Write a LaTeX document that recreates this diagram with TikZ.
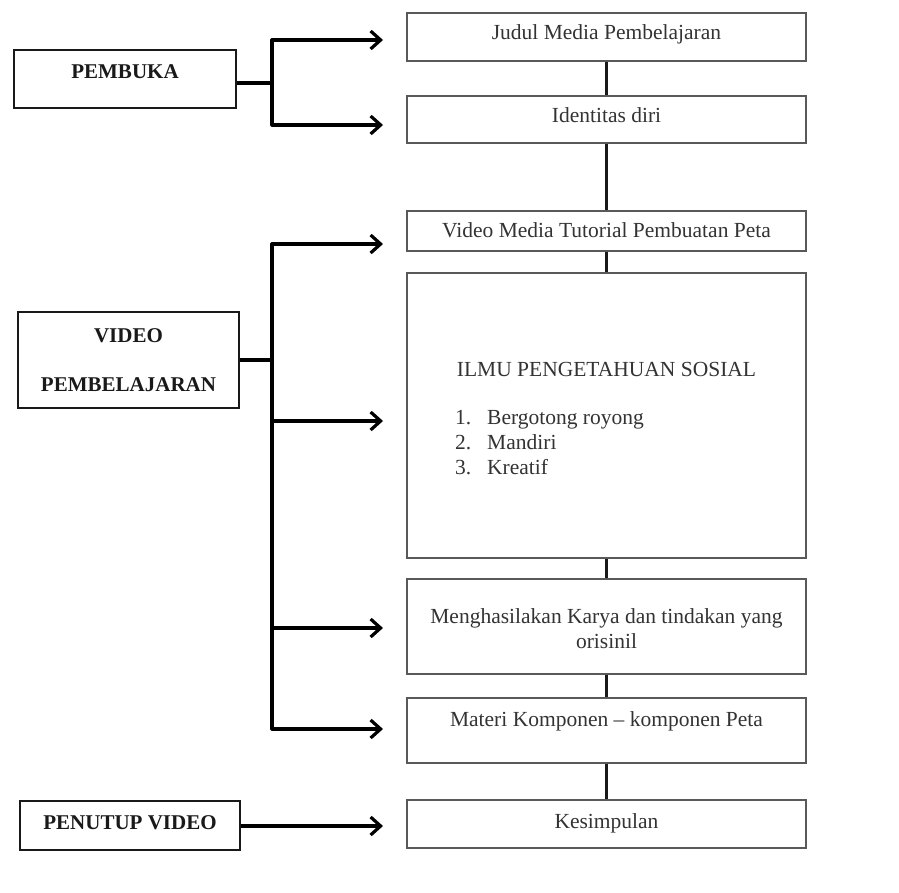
\documentclass[tikz,border=0pt]{standalone}
\usepackage{fontspec}
\setmainfont{Liberation Serif}
\usetikzlibrary{arrows.meta}
\begin{document}
\begin{tikzpicture}[x=1pt,y=-1pt,
 rbox/.style={draw=black!65, line width=1.8pt, inner sep=0, minimum width=399pt},
 lbox/.style={draw=black!90, line width=2.8pt, inner sep=0},
 rtext/.style={anchor=base, text=black!80, font=\fontsize{21.5}{25}\selectfont, inner sep=0},
 ltext/.style={anchor=base, text=black!90, font=\fontsize{21}{25}\selectfont\bfseries, inner sep=0},
 vlink/.style={draw=black!90, line width=2.2pt},
 branch/.style={draw=black, line width=3.2pt, line join=round},
 arr/.style={branch, -{Straight Barb[length=10pt,width=18pt]}}]
\fill[white] (0,0) rectangle (899,893);
\useasboundingbox (0,0) rectangle (899,893);
% right column boxes
\node[rbox, minimum height=48pt]  (b1) at (606.5,37) {};
\node[rbox, minimum height=47pt]  (b2) at (606.5,119.5) {};
\node[rbox, minimum height=40pt]  (b3) at (606.5,231) {};
\node[rbox, minimum height=285pt] (b4) at (606.5,415.5) {};
\node[rbox, minimum height=95pt]  (b5) at (606.5,626.5) {};
\node[rbox, minimum height=65pt]  (b6) at (606.5,730.5) {};
\node[rbox, minimum height=48pt]  (b7) at (606.5,824) {};
\draw[vlink] (b1.south) -- (b2.north);
\draw[vlink] (b2.south) -- (b3.north);
\draw[vlink] (b3.south) -- (b4.north);
\draw[vlink] (b4.south) -- (b5.north);
\draw[vlink] (b5.south) -- (b6.north);
\draw[vlink] (b6.south) -- (b7.north);
% right texts
\node[rtext] (t1) at (606.5,40) {Judul Media Pembelajaran};
\node[rtext] (t2) at (606.5,123) {Identitas diri};
\node[rtext] (t3) at (606.5,238) {Video Media Tutorial Pembuatan Peta};
\node[rtext] (t4) at (606.5,376) {ILMU PENGETAHUAN SOSIAL};
\node[rtext, anchor=base west] (n1) at (455,424) {1.};
\node[rtext, anchor=base west] (i1) at (487,424) {Bergotong royong};
\node[rtext, anchor=base west] (n2) at (455,449) {2.};
\node[rtext, anchor=base west] (i2) at (487,449) {Mandiri};
\node[rtext, anchor=base west] (n3) at (455,474) {3.};
\node[rtext, anchor=base west] (i3) at (487,474) {Kreatif};
\node[rtext] (t5a) at (606.5,623) {Menghasilakan Karya dan tindakan yang};
\node[rtext] (t5b) at (606.5,648) {orisinil};
\node[rtext] (t6) at (606.5,726) {Materi Komponen – komponen Peta};
\node[rtext] (t7) at (606.5,828) {Kesimpulan};
% left boxes
\node[lbox, minimum width=222pt, minimum height=58pt] (L1) at (125,79) {};
\node[lbox, minimum width=221pt, minimum height=96pt] (L2) at (128.5,360) {};
\node[lbox, minimum width=220pt, minimum height=49pt] (L3) at (130,825.5) {};
\node[ltext] (lt1) at (125,79) {PEMBUKA};
\node[ltext] (lt2a) at (128.5,342) {VIDEO};
\node[ltext] (lt2b) at (128.5,391) {PEMBELAJARAN};
\node[ltext] (lt3) at (130,829) {PENUTUP VIDEO};
% branch connectors
\coordinate (j1) at (272,83);
\coordinate (a1) at (383,40);
\coordinate (a2) at (383,125);
\draw[branch] (L1.east |- j1) -- (j1);
\draw[arr] (j1) |- (a1);
\draw[arr] (j1) |- (a2);
\coordinate (j2) at (272,360);
\coordinate (a3) at (383,244);
\coordinate (a4) at (383,421);
\coordinate (a5) at (383,628);
\coordinate (a6) at (383,729);
\draw[branch] (L2.east) -- (j2);
\draw[arr] (j2) |- (a3);
\draw[arr] (j2) |- (a6);
\draw[arr] (j2 |- a4) -- (a4);
\draw[arr] (j2 |- a5) -- (a5);
\coordinate (a7) at (383,826);
\draw[arr] (L3.east |- a7) -- (a7);
\end{tikzpicture}
\end{document}
